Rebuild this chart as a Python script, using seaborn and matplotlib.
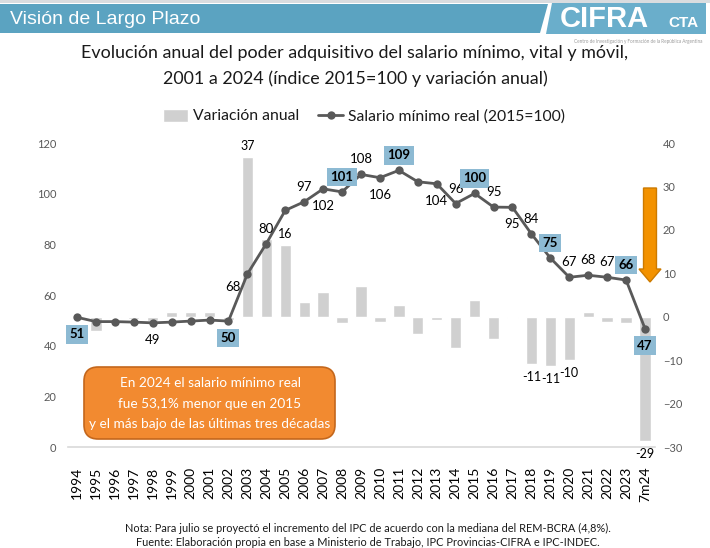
import numpy as np
import pandas as pd
import matplotlib
matplotlib.use("Agg")
import matplotlib.pyplot as plt
from matplotlib.patches import Rectangle, FancyBboxPatch, FancyArrow, Polygon
import seaborn as sns

# --- DATOS ---
anios = ["1994", "1995", "1996", "1997", "1998", "1999", "2000", "2001", "2002",
         "2003", "2004", "2005", "2006", "2007", "2008", "2009", "2010", "2011",
         "2012", "2013", "2014", "2015", "2016", "2017", "2018", "2019", "2020",
         "2021", "2022", "2023", "7m24"]
salario_real = [51.2, 49.5, 49.5, 49.3, 49.0, 49.3, 49.7, 50.1, 49.7, 68.3,
                80.3, 93.4, 96.8, 101.9, 100.7, 107.6, 106.3, 109.2, 104.7, 103.9,
                96.1, 100.1, 94.7, 94.6, 84.1, 74.6, 67.0, 67.8, 67.0, 65.9, 46.7]
variacion = [np.nan, -3.2, -0.3, -0.5, -0.9, 1.2, 1.1, 1.2, -0.8, 36.7,
             18.0, 16.4, 3.5, 5.6, -1.5, 7.0, -1.2, 2.8, -3.9, -0.7,
             -7.2, 3.9, -5.1, -0.2, -10.9, -11.3, -9.9, 1.2, -1.2, -1.5, -28.7]

# etiquetas del indice: (posicion, recuadro)
etiq_salario = {0: ("abajo", True), 4: ("abajo", False), 8: ("abajo", True),
                9: ("izq", False), 10: ("arriba", False), 12: ("arriba", False),
                13: ("abajo", False), 14: ("arriba", True), 15: ("arriba", False),
                16: ("abajo", False), 17: ("arriba", True), 19: ("abajo", False),
                20: ("arriba", False), 21: ("arriba", True), 22: ("arriba", False),
                23: ("abajo", False), 24: ("arriba", False), 25: ("arriba", True),
                26: ("arriba", False), 27: ("arriba", False), 28: ("arriba", False),
                29: ("arriba", True), 30: ("abajo", True)}
etiq_variacion = [9, 11, 24, 25, 26, 30]

FUENTE = ["Lato", "DejaVu Sans"]
W, H = 710, 548


def fx(px):
    return px / W


def fy(py):
    return 1 - py / H


sns.set_theme(style="white")
plt.rcParams["font.family"] = FUENTE

fig = plt.figure(figsize=(W / 100, H / 100), dpi=100)
fig.patch.set_facecolor("white")

# --- ENCABEZADO ---
fig.add_artist(Rectangle((0, fy(3)), 1, 3 / H, transform=fig.transFigure,
                         color="#d9dcdf", lw=0))
fig.add_artist(Polygon([(0, fy(4)), (fx(548), fy(4)), (fx(540), fy(33)), (0, fy(33))],
                       closed=True, transform=fig.transFigure, color="#5ba3c1", lw=0))
fig.text(fx(10), fy(19), "Visión de Largo Plazo", color="white", fontsize=14,
         family=["Liberation Sans", "DejaVu Sans"], va="center", ha="left")
# logo aproximado
fig.add_artist(Polygon([(fx(552), fy(3)), (fx(706), fy(3)), (fx(706), fy(34)), (fx(546), fy(34))],
                       closed=True, transform=fig.transFigure, color="#6aaecb", lw=0))
fig.text(fx(560), fy(19), "CIFRA", color="white", fontsize=21, fontweight="bold",
         family=["Liberation Sans", "DejaVu Sans"], va="center", ha="left")
fig.text(fx(668), fy(23), "CTA", color="white", fontsize=11, fontweight="bold",
         family=["Liberation Sans", "DejaVu Sans"], va="center", ha="left")
fig.text(fx(638), fy(41), "Centro de Investigación y Formación de la República Argentina",
         color="#9a9a9a", fontsize=3.3, va="center", ha="center")

# --- TITULO ---
fig.text(0.5, fy(53), "Evolución anual del poder adquisitivo del salario mínimo, vital y móvil,",
         ha="center", va="center", fontsize=12.9, color="#1a1a1a")
fig.text(0.5, fy(79), "2001 a 2024 (índice 2015=100 y variación anual)",
         ha="center", va="center", fontsize=12.9, color="#1a1a1a")

# --- GRAFICO ---
df = pd.DataFrame({"anio": anios, "pos": np.arange(len(anios)),
                   "salario": salario_real, "variacion": variacion})

ax = fig.add_axes([fx(67.5), 1 - 447 / H, 587 / W, (447 - 143) / H])
sns.barplot(data=df, x="anio", y="variacion", color="#d0d0d0", width=0.6,
            saturation=1, ax=ax, label="Variación anual")
ax.set_ylim(-30, 40)
ax.set_xlim(-0.5, len(anios) - 0.5)
ax.set_yticks(range(-30, 41, 10))

ax2 = ax.twinx()
sns.lineplot(data=df, x="pos", y="salario", color="#595959", lw=2, marker="o",
             markersize=6, markeredgewidth=0, ax=ax2, label="Salario mínimo real (2015=100)")
ax2.set_ylim(0, 120)
ax2.set_yticks(range(0, 121, 20))
ax.yaxis.tick_right()
ax2.yaxis.tick_left()

for a in (ax, ax2):
    a.set_xlabel("")
    a.set_ylabel("")
    for s in a.spines.values():
        s.set_visible(False)
    a.tick_params(axis="y", length=0, labelsize=8, labelcolor="#595959")
    a.patch.set_alpha(0)
    if a.get_legend():
        a.get_legend().remove()
ax.spines["bottom"].set_visible(True)
ax.spines["bottom"].set_color("#d9d9d9")
ax.spines["bottom"].set_linewidth(1.2)
ax.tick_params(axis="x", length=0, labelsize=10, labelrotation=90, pad=14, labelcolor="black")
ax.tick_params(axis="y", pad=6)
ax2.tick_params(axis="y", pad=8)

# etiquetas del salario
desp = {"arriba": (0, 15), "abajo": (0, -17), "izq": (-14, -13)}
for i, (pos, caja) in etiq_salario.items():
    val = salario_real[i]
    dx, dy = desp[pos]
    kw = dict(textcoords="offset pixels", ha="center", va="center", fontsize=9.5,
              color="black")
    if caja:
        kw.update(fontweight="bold",
                  bbox=dict(boxstyle="square,pad=0.25", fc="#8dbad3", ec="none"))
    ax2.annotate(f"{round(val)}", xy=(i, val), xytext=(dx, dy), **kw)

# etiquetas de la variacion
for i in etiq_variacion:
    val = variacion[i]
    dy = 11 if val > 0 else -13
    ax.annotate(f"{round(val)}", xy=(i, val), xytext=(0, dy), textcoords="offset pixels",
                ha="center", va="center", fontsize=9, color="black")

# --- LEYENDA ---
h1, l1 = ax.get_legend_handles_labels()
h2, l2 = ax2.get_legend_handles_labels()
fig.legend(h1 + h2, l1 + l2, loc="center", bbox_to_anchor=(fx(364), fy(116)), ncol=2,
           frameon=False, fontsize=11.3, handlelength=1.6, handleheight=0.9,
           columnspacing=1.2, handletextpad=0.3, labelcolor="#1a1a1a")

# --- RECUADRO NARANJA ---
fig.add_artist(FancyBboxPatch((fx(84), fy(439)), fx(251), (439 - 367) / H,
                              boxstyle="round,pad=0,rounding_size=0.02",
                              transform=fig.transFigure, fc="#f28a30", ec="#c4671c", lw=1.2,
                              mutation_aspect=W / H))
for k, linea in enumerate(["En 2024 el salario mínimo real", "fue 53,1% menor que en 2015",
                           "y el más bajo de las últimas tres décadas"]):
    fig.text(fx(210), fy(383 + 20.5 * k), linea, color="white", fontsize=9.8,
             ha="center", va="center")

# --- FLECHA ---
fig.add_artist(FancyArrow(fx(650), fy(188), 0, -(282 - 188) / H, width=10 / H,
                          head_width=22 / W, head_length=13 / H, length_includes_head=True,
                          transform=fig.transFigure, fc="#f39200", ec="#cc7a00", lw=1))

# --- NOTAS ---
fig.text(fx(368), fy(528), "Nota: Para julio se proyectó el incremento del IPC de acuerdo con la mediana del REM-BCRA (4,8%).",
         ha="center", va="center", fontsize=7.9, color="#1a1a1a",
         family=["Liberation Sans Narrow", "Lato", "DejaVu Sans"])
fig.text(fx(368), fy(542), "Fuente: Elaboración propia en base a Ministerio de Trabajo, IPC Provincias-CIFRA e IPC-INDEC.",
         ha="center", va="center", fontsize=7.9, color="#1a1a1a",
         family=["Liberation Sans Narrow", "Lato", "DejaVu Sans"])

fig.savefig("out.png", dpi=100)
